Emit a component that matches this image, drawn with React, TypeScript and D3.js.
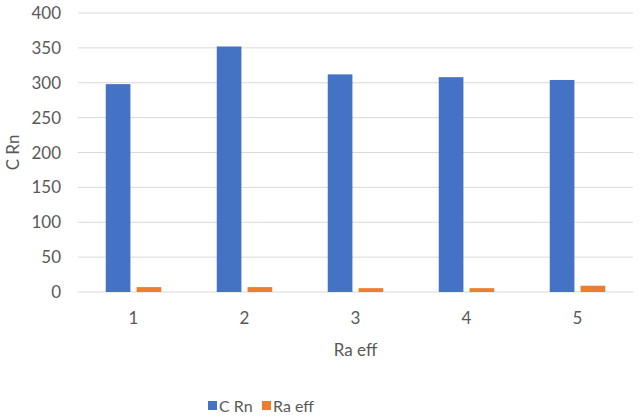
import React from 'react'
import * as d3 from 'd3'

const categories = ['1', '2', '3', '4', '5']
const cRn = [298, 352, 312, 308, 304]
const raEff = [7, 7, 5.5, 5.5, 9]
const yTicks = [0, 50, 100, 150, 200, 250, 300, 350, 400]

const seriesNames = ['C Rn', 'Ra eff']
const colors = ['#4472C4', '#ED7D31']

const width = 640
const height = 418
const margin = { top: 13, right: 7, bottom: 126, left: 78 }
const font = "Lato, 'Open Sans', sans-serif"
const textColor = '#595959'
const fs = 17

const App: React.FunctionComponent = () => {
  const x = d3
    .scaleBand()
    .domain(categories)
    .range([margin.left, width - margin.right])
    .paddingInner(0.5)
    .paddingOuter(0.25)

  const inner = d3
    .scaleBand()
    .domain(seriesNames)
    .range([0, x.bandwidth()])
    .paddingInner(0.2)

  const y = d3
    .scaleLinear()
    .domain([0, 400])
    .range([height - margin.bottom, margin.top])

  const series = [cRn, raEff]

  return (
    <svg
      width={width}
      height={height}
      style={{ position: 'absolute', left: 0, top: 0, background: '#fff' }}
      fontFamily={font}
    >
      {yTicks.map(t => (
        <g key={t}>
          <line
            x1={margin.left}
            x2={width - margin.right}
            y1={y(t)}
            y2={y(t)}
            stroke="#D9D9D9"
            strokeWidth={1}
          />
          <text
            x={margin.left - 17}
            y={y(t)}
            dy="0.36em"
            textAnchor="end"
            fontSize={fs}
            fill={textColor}
          >
            {t}
          </text>
        </g>
      ))}

      {categories.map((c, i) => (
        <g key={c}>
          {series.map((s, j) => {
            const bx = (x(c) ?? 0) + (inner(seriesNames[j]) ?? 0)
            return (
              <rect
                key={j}
                x={bx}
                y={y(s[i])}
                width={inner.bandwidth()}
                height={y(0) - y(s[i])}
                fill={colors[j]}
              />
            )
          })}
          <text
            x={(x(c) ?? 0) + x.bandwidth() / 2}
            y={324}
            textAnchor="middle"
            fontSize={fs}
            fill={textColor}
          >
            {c}
          </text>
        </g>
      ))}

      <text
        x={(margin.left + width - margin.right) / 2}
        y={356}
        textAnchor="middle"
        fontSize={fs}
        fill={textColor}
      >
        Ra eff
      </text>

      <text
        transform={`translate(19, ${(y(0) + y(400)) / 2}) rotate(-90)`}
        textAnchor="middle"
        fontSize={fs}
        fill={textColor}
      >
        C Rn
      </text>

      <g>
        <rect x={208} y={401} width={9} height={9} fill={colors[0]} />
        <text x={219} y={411.5} fontSize={16} fill={textColor}>
          {seriesNames[0]}
        </text>
        <rect x={262} y={401} width={9} height={9} fill={colors[1]} />
        <text x={273} y={411.5} fontSize={16} fill={textColor}>
          {seriesNames[1]}
        </text>
      </g>
    </svg>
  )
}

export default App
